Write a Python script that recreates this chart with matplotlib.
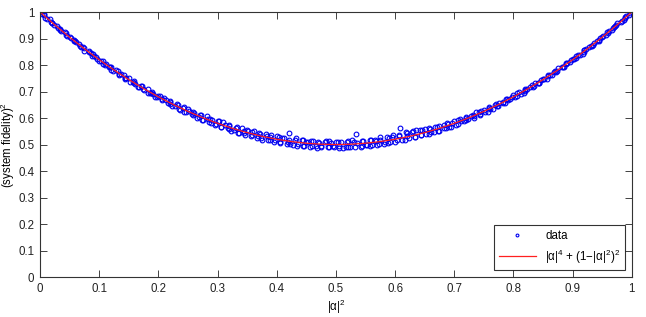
import numpy as np
import matplotlib
matplotlib.use("Agg")
import matplotlib.pyplot as plt

plt.rcParams['font.family'] = ['Liberation Sans', 'DejaVu Sans']
plt.rcParams['mathtext.fontset'] = 'custom'
plt.rcParams['mathtext.rm'] = 'Liberation Sans'
plt.rcParams['mathtext.default'] = 'regular'

# measured points |alpha|^2 vs fidelity^2 (two interleaved batches)
x_data = [
    0.000, 0.006, 0.009, 0.017, 0.020, 0.023, 0.031, 0.034, 0.042, 0.044,
    0.050, 0.057, 0.058, 0.066, 0.070, 0.074, 0.082, 0.086, 0.088, 0.095,
    0.100, 0.106, 0.109, 0.117, 0.120, 0.123, 0.131, 0.134, 0.142, 0.144,
    0.150, 0.157, 0.158, 0.166, 0.170, 0.174, 0.182, 0.186, 0.188, 0.195,
    0.200, 0.206, 0.209, 0.217, 0.220, 0.223, 0.231, 0.234, 0.242, 0.244,
    0.250, 0.257, 0.258, 0.266, 0.270, 0.274, 0.282, 0.286, 0.288, 0.295,
    0.300, 0.306, 0.309, 0.317, 0.320, 0.323, 0.331, 0.334, 0.342, 0.344,
    0.350, 0.357, 0.358, 0.366, 0.370, 0.374, 0.382, 0.386, 0.388, 0.395,
    0.400, 0.406, 0.409, 0.417, 0.420, 0.423, 0.431, 0.434, 0.442, 0.444,
    0.450, 0.457, 0.458, 0.466, 0.470, 0.474, 0.482, 0.486, 0.488, 0.495,
    0.500, 0.506, 0.509, 0.517, 0.520, 0.523, 0.531, 0.534, 0.542, 0.544,
    0.550, 0.557, 0.558, 0.566, 0.570, 0.574, 0.582, 0.586, 0.588, 0.595,
    0.600, 0.606, 0.609, 0.617, 0.620, 0.623, 0.631, 0.634, 0.642, 0.644,
    0.650, 0.657, 0.658, 0.666, 0.670, 0.674, 0.682, 0.686, 0.688, 0.695,
    0.700, 0.706, 0.709, 0.717, 0.720, 0.723, 0.731, 0.734, 0.742, 0.744,
    0.750, 0.757, 0.758, 0.766, 0.770, 0.774, 0.782, 0.786, 0.788, 0.795,
    0.800, 0.806, 0.809, 0.817, 0.820, 0.823, 0.831, 0.834, 0.842, 0.844,
    0.850, 0.857, 0.858, 0.866, 0.870, 0.874, 0.882, 0.886, 0.888, 0.895,
    0.900, 0.906, 0.909, 0.917, 0.920, 0.923, 0.931, 0.934, 0.942, 0.944,
    0.950, 0.957, 0.958, 0.966, 0.970, 0.974, 0.982, 0.986, 0.988, 0.995,
    1.000,
]
y_data = [
    1.000, .991, .979, .972, .960, .952, .940, .933, .925, .913,
    .906, .894, .889, .878, .868, .863, .852, .847, .834, .829,
    .817, .816, .802, .791, .792, .779, .778, .763, .761, .748,
    .750, .736, .734, .719, .722, .708, .711, .694, .694, .680,
    .685, .671, .675, .657, .663, .647, .654, .634, .638, .623,
    .634, .615, .621, .602, .610, .592, .607, .586, .596, .574,
    .587, .568, .584, .561, .574, .551, .564, .543, .564, .542,
    .555, .533, .546, .524, .545, .523, .538, .516, .530, .511,
    .532, .511, .526, .502, .543, .502, .518, .495, .518, .496,
    .511, .490, .515, .494, .511, .489, .508, .490, .513, .493,
    .510, .487, .508, .491, .513, .490, .508, .538, .491, .514,
    .497, .519, .494, .517, .500, .518, .501, .528, .507, .529,
    .509, .531, .562, .516, .544, .523, .552, .527, .555, .535,
    .559, .538, .563, .546, .567, .550, .575, .562, .580, .567,
    .587, .577, .597, .587, .605, .595, .613, .602, .621, .615,
    .632, .624, .640, .636, .652, .646, .661, .656, .673, .671,
    .686, .682, .697, .693, .709, .708, .723, .720, .734, .734,
    .749, .749, .763, .764, .777, .778, .791, .793, .807, .810,
    .822, .826, .839, .843, .855, .859, .871, .876, .889, .895,
    .906, .912, .924, .931, .943, .950, .962, .969, .981, .989,
    .999,
]
x_data2 = [
    0.003, 0.006, 0.012, 0.019, 0.020, 0.028, 0.033, 0.036, 0.044, 0.046,
    0.052, 0.059, 0.061, 0.068, 0.072, 0.075, 0.083, 0.089, 0.091, 0.097,
    0.103, 0.106, 0.112, 0.119, 0.120, 0.128, 0.133, 0.136, 0.144, 0.146,
    0.152, 0.159, 0.161, 0.168, 0.172, 0.175, 0.183, 0.189, 0.191, 0.197,
    0.203, 0.206, 0.212, 0.219, 0.220, 0.228, 0.233, 0.236, 0.244, 0.246,
    0.252, 0.259, 0.261, 0.268, 0.272, 0.275, 0.283, 0.289, 0.291, 0.297,
    0.303, 0.306, 0.312, 0.319, 0.320, 0.328, 0.333, 0.336, 0.344, 0.346,
    0.352, 0.359, 0.361, 0.368, 0.372, 0.375, 0.383, 0.389, 0.391, 0.397,
    0.403, 0.406, 0.412, 0.419, 0.420, 0.428, 0.433, 0.436, 0.444, 0.446,
    0.452, 0.459, 0.461, 0.468, 0.472, 0.475, 0.483, 0.489, 0.491, 0.497,
    0.503, 0.506, 0.512, 0.519, 0.520, 0.528, 0.533, 0.536, 0.544, 0.546,
    0.552, 0.559, 0.561, 0.568, 0.572, 0.575, 0.583, 0.589, 0.591, 0.597,
    0.603, 0.606, 0.612, 0.619, 0.620, 0.628, 0.633, 0.636, 0.644, 0.646,
    0.652, 0.659, 0.661, 0.668, 0.672, 0.675, 0.683, 0.689, 0.691, 0.697,
    0.703, 0.706, 0.712, 0.719, 0.720, 0.728, 0.733, 0.736, 0.744, 0.746,
    0.752, 0.759, 0.761, 0.768, 0.772, 0.775, 0.783, 0.789, 0.791, 0.797,
    0.803, 0.806, 0.812, 0.819, 0.820, 0.828, 0.833, 0.836, 0.844, 0.846,
    0.852, 0.859, 0.861, 0.868, 0.872, 0.875, 0.883, 0.889, 0.891, 0.897,
    0.903, 0.906, 0.912, 0.919, 0.920, 0.928, 0.933, 0.936, 0.944, 0.946,
    0.952, 0.959, 0.961, 0.968, 0.972, 0.975, 0.983, 0.989, 0.991, 0.997,
]
y_data2 = [
    .994, .987, .975, .964, .957, .949, .936, .928, .921, .908,
    .902, .891, .886, .872, .867, .854, .851, .840, .835, .822,
    .817, .804, .803, .794, .782, .782, .768, .768, .752, .751,
    .737, .738, .729, .717, .720, .706, .696, .699, .690, .678,
    .683, .669, .668, .653, .662, .646, .648, .632, .642, .624,
    .625, .610, .620, .605, .612, .593, .598, .581, .592, .578,
    .587, .567, .574, .557, .571, .555, .567, .545, .553, .537,
    .553, .535, .550, .531, .540, .519, .533, .516, .536, .516,
    .527, .505, .525, .508, .516, .500, .523, .501, .516, .493,
    .510, .495, .514, .488, .505, .495, .513, .489, .504, .492,
    .510, .495, .488, .508, .492, .516, .489, .507, .494, .514,
    .500, .519, .497, .515, .503, .527, .509, .525, .508, .535,
    .517, .535, .517, .548, .533, .547, .529, .555, .537, .554,
    .539, .558, .548, .566, .553, .569, .563, .579, .568, .583,
    .574, .593, .587, .601, .592, .609, .606, .621, .612, .627,
    .623, .639, .635, .650, .645, .657, .655, .671, .669, .681,
    .679, .694, .692, .706, .703, .718, .719, .732, .732, .744,
    .746, .759, .761, .773, .775, .787, .791, .803, .807, .818,
    .822, .833, .838, .851, .856, .868, .873, .884, .890, .902,
    .909, .921, .927, .938, .946, .957, .965, .976, .984, .995,
]

# theory curve |a|^4 + (1-|a|^2)^2, values read at 0.025 steps
x_fit = [0.000, 0.025, 0.050, 0.075, 0.100, 0.125, 0.150, 0.175, 0.200, 0.225,
         0.250, 0.275, 0.300, 0.325, 0.350, 0.375, 0.400, 0.425, 0.450, 0.475,
         0.500, 0.525, 0.550, 0.575, 0.600, 0.625, 0.650, 0.675, 0.700, 0.725,
         0.750, 0.775, 0.800, 0.825, 0.850, 0.875, 0.900, 0.925, 0.950, 0.975,
         1.000]
y_fit = [1.0, 0.95125, 0.905, 0.86125, 0.82, 0.78125, 0.745, 0.71125, 0.68, 0.65125,
         0.625, 0.60125, 0.58, 0.56125, 0.545, 0.53125, 0.52, 0.51125, 0.505, 0.50125,
         0.5, 0.50125, 0.505, 0.51125, 0.52, 0.53125, 0.545, 0.56125, 0.58, 0.60125,
         0.625, 0.65125, 0.68, 0.71125, 0.745, 0.78125, 0.82, 0.86125, 0.905, 0.95125,
         1.0]

ticks = [0, 0.1, 0.2, 0.3, 0.4, 0.5, 0.6, 0.7, 0.8, 0.9, 1]
tick_labels = ['0', '0.1', '0.2', '0.3', '0.4', '0.5', '0.6', '0.7', '0.8', '0.9', '1']


def main():
    fig = plt.figure(figsize=(6.46, 3.17), dpi=100)
    ax = fig.add_axes([0.062, 0.126, 0.916, 0.836])

    xs = x_data + x_data2
    ys = y_data + y_data2
    ax.plot(xs, ys, 'o', mfc='none', mec='#0000f0', ms=3.4, mew=0.8,
            label='data')
    ax.plot(x_fit, y_fit, '-', color='#ff2020', lw=0.9,
            label='|α|$^4$ + (1−|α|$^2$)$^2$')

    ax.set_xlim(0, 1)
    ax.set_ylim(0, 1)
    ax.set_xticks(ticks)
    ax.set_xticklabels(tick_labels)
    ax.set_yticks(ticks)
    ax.set_yticklabels(tick_labels)
    ax.tick_params(direction='in', top=True, right=True, length=5, width=0.6,
                   labelsize=8.3, colors='#222222', pad=4)
    for s in ax.spines.values():
        s.set_linewidth(0.8)
        s.set_color('#333333')

    ax.set_xlabel('|α|$^2$', fontsize=8.3, labelpad=2)
    ax.set_ylabel('(system fidelity)$^2$', fontsize=8.3, labelpad=1)

    leg = ax.legend(loc='lower right', fontsize=8.3, frameon=True, fancybox=False,
                    edgecolor='black', borderaxespad=0.6, handlelength=3.2,
                    markerscale=0.6)
    leg.get_frame().set_linewidth(0.8)

    fig.savefig('out.png', dpi=100)


if __name__ == "__main__":
    main()
